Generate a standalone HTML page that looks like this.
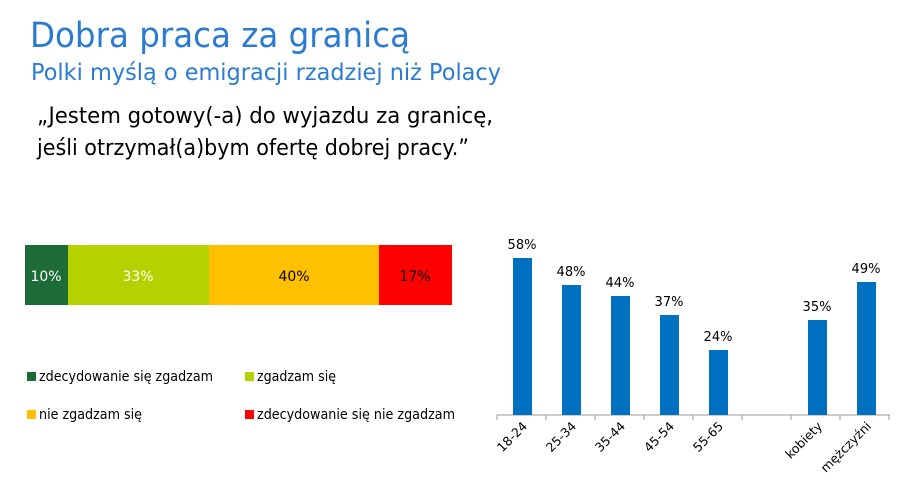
<!DOCTYPE html>
<html><head><meta charset="utf-8"><style>
html,body{margin:0;padding:0;background:#fff;}
svg{display:block;font-family:"DejaVu Sans","Liberation Sans",sans-serif;}
</style></head><body>
<svg width="906" height="492" viewBox="0 0 906 492" xmlns="http://www.w3.org/2000/svg">
<rect width="906" height="492" fill="#fff"/>
<text x="30" y="47" font-size="35" fill="#2b7bd3" textLength="380" lengthAdjust="spacingAndGlyphs">Dobra praca za granicą</text>
<text x="31" y="80" font-size="23" fill="#2b7bd3" textLength="470" lengthAdjust="spacingAndGlyphs">Polki myślą o emigracji rzadziej niż Polacy</text>
<text x="37" y="123" font-size="22" fill="#000" textLength="456" lengthAdjust="spacingAndGlyphs">„Jestem gotowy(-a) do wyjazdu za granicę,</text>
<text x="37" y="155" font-size="22" fill="#000" textLength="432" lengthAdjust="spacingAndGlyphs">jeśli otrzymał(a)bym ofertę dobrej pracy.”</text>

<rect x="25" y="245" width="43" height="60" fill="#1d6b36"/>
<rect x="68" y="245" width="141" height="60" fill="#b6d100"/>
<rect x="209" y="245" width="170" height="60" fill="#ffc000"/>
<rect x="379" y="245" width="73" height="60" fill="#ff0000"/>
<g font-size="14" text-anchor="middle">
<text x="46" y="281" fill="#fff">10%</text>
<text x="138" y="281" fill="#fff">33%</text>
<text x="294" y="281" fill="#000">40%</text>
<text x="415" y="281" fill="#000">17%</text>
</g>
<g font-size="14" fill="#000" lengthAdjust="spacingAndGlyphs">
<rect x="27" y="372" width="9" height="9" fill="#1d6b36"/><text x="39" y="381" textLength="174" lengthAdjust="spacingAndGlyphs">zdecydowanie się zgadzam</text>
<rect x="245" y="372" width="9" height="9" fill="#b6d100"/><text x="257" y="381" textLength="79" lengthAdjust="spacingAndGlyphs">zgadzam się</text>
<rect x="27" y="410" width="9" height="9" fill="#ffc000"/><text x="39" y="419" textLength="103" lengthAdjust="spacingAndGlyphs">nie zgadzam się</text>
<rect x="245" y="410" width="9" height="9" fill="#ff0000"/><text x="257" y="419" textLength="198" lengthAdjust="spacingAndGlyphs">zdecydowanie się nie zgadzam</text>
</g>

<line x1="497" y1="415" x2="890" y2="415" stroke="#999" stroke-width="1"/>
<g stroke="#999">
<line x1="497" y1="415" x2="497" y2="420"/><line x1="546" y1="415" x2="546" y2="420"/><line x1="595" y1="415" x2="595" y2="420"/><line x1="644" y1="415" x2="644" y2="420"/><line x1="693" y1="415" x2="693" y2="420"/><line x1="742" y1="415" x2="742" y2="420"/><line x1="791" y1="415" x2="791" y2="420"/><line x1="840" y1="415" x2="840" y2="420"/><line x1="889" y1="415" x2="889" y2="420"/>
</g>
<g fill="#0070c0">
<rect x="513" y="258" width="19" height="157"/>
<rect x="562" y="285" width="19" height="130"/>
<rect x="611" y="296" width="19" height="119"/>
<rect x="660" y="315" width="19" height="100"/>
<rect x="709" y="350" width="19" height="65"/>
<rect x="808" y="320" width="19" height="95"/>
<rect x="857" y="282" width="19" height="133"/>
</g>
<g font-size="13" text-anchor="middle" fill="#000">
<text x="522" y="249">58%</text>
<text x="571" y="276">48%</text>
<text x="620" y="287">44%</text>
<text x="669" y="306">37%</text>
<text x="718" y="341">24%</text>
<text x="817" y="311">35%</text>
<text x="866" y="273">49%</text>
</g>
<g font-size="12.5" text-anchor="end" fill="#000">
<text transform="translate(528,427) rotate(-45)">18-24</text>
<text transform="translate(577,427) rotate(-45)">25-34</text>
<text transform="translate(626,427) rotate(-45)">35-44</text>
<text transform="translate(675,427) rotate(-45)">45-54</text>
<text transform="translate(724,427) rotate(-45)">55-65</text>
<text transform="translate(823,427) rotate(-45)">kobiety</text>
<text transform="translate(872,427) rotate(-45)">mężczyźni</text>
</g>
</svg>
</body></html>
